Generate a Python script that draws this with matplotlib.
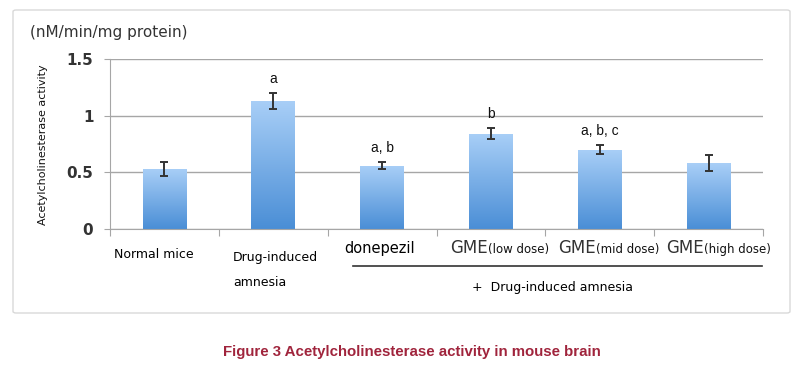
import matplotlib.pyplot as plt
from matplotlib.patches import FancyBboxPatch
from matplotlib.colors import LinearSegmentedColormap
import numpy as np

# values
groups = ['Normal mice', 'Drug-induced\namnesia', 'donepezil', 'GME(low dose)', 'GME(mid dose)', 'GME(high dose)']
activity = [0.53, 1.13, 0.56, 0.84, 0.70, 0.58]
err = [0.06, 0.07, 0.03, 0.05, 0.04, 0.07]
marks = ['', 'a', 'a, b', 'b', 'a, b, c', '']
yticks = [0, 0.5, 1, 1.5]
ytick_labels = ['0', '0.5', '1', '1.5']

fig = plt.figure(figsize=(8, 3.88), dpi=100)
fig.patch.set_facecolor('white')

# panel frame
frame = FancyBboxPatch((13 / 800, 1 - 313 / 388), 777 / 800, 303 / 388,
                       boxstyle='round,pad=0,rounding_size=0.004',
                       transform=fig.transFigure, facecolor='none',
                       edgecolor='#d9d9d9', linewidth=1.0, zorder=-5)
fig.add_artist(frame)

ax = fig.add_axes([110 / 800, 1 - 229 / 388, 653 / 800, 170 / 388])
ax.set_facecolor('none')
x = np.arange(len(groups))

bars = ax.bar(x, activity, width=0.4, color='none', edgecolor='none', zorder=2)

# vertical gradient fill for each bar
grad = np.linspace(0, 1, 256).reshape(-1, 1)
cmap = LinearSegmentedColormap.from_list('barblue', ['#4a8ed6', '#a9cff7'])
for b in bars:
    x0, y0 = b.get_x(), b.get_y()
    w, h = b.get_width(), b.get_height()
    im = ax.imshow(grad, extent=[x0, x0 + w, y0, y0 + h], origin='lower',
                   aspect='auto', cmap=cmap, zorder=2)
    im.set_clip_path(b)
ax.set_xlim(-0.5, len(groups) - 0.5)
ax.set_ylim(0, 1.5)

ax.errorbar(x, activity, yerr=err, fmt='none', ecolor='#333333',
            elinewidth=1.4, capsize=3, capthick=1.4, zorder=3)

for xi, v, e, m in zip(x, activity, err, marks):
    if m:
        ax.text(xi, v + e + 0.06, m, ha='center', va='bottom', fontsize=10,
                fontfamily='Liberation Sans', color='#111111')

ax.set_yticks(yticks)
ax.set_yticklabels(ytick_labels, fontsize=11, fontweight='bold', color='#333333')
ax.yaxis.grid(True, color='#a6a6a6', linewidth=1.0, zorder=0)
ax.set_axisbelow(True)
ax.tick_params(axis='y', length=4, color='#a6a6a6', pad=8)
ax.set_xticks(np.arange(-0.5, len(groups), 1.0))
ax.set_xticklabels([])
ax.tick_params(axis='x', length=5, color='#a6a6a6', direction='out')
for s in ['top', 'right']:
    ax.spines[s].set_visible(False)
ax.spines['left'].set_color('#a6a6a6')
ax.spines['bottom'].set_color('#a6a6a6')

# units and axis title
fig.text(30 / 800, 1 - 33 / 388, '(nM/min/mg protein)', fontsize=11,
         color='#333333', va='center', ha='left')
fig.text(43 / 800, 1 - 145 / 388, 'Acetylcholinesterase activity', fontsize=8,
         rotation=90, va='center', ha='center', color='#111111')

# category labels under the axis
fig.text(154 / 800, 1 - 255 / 388, 'Normal mice', fontsize=9, ha='center', va='center')
fig.text(233 / 800, 1 - 258 / 388, 'Drug-induced', fontsize=9, ha='left', va='center')
fig.text(233 / 800, 1 - 283 / 388, 'amnesia', fontsize=9, ha='left', va='center')
fig.text(380 / 800, 1 - 249 / 388, 'donepezil', fontsize=10.5, ha='center', va='center')

def gme(xpos, small):
    t = fig.text(xpos / 800, 1 - 248 / 388, 'GME', fontsize=12, ha='left',
                 va='center', color='#333333')
    fig.canvas.draw()
    bb = t.get_window_extent()
    fig.text(bb.x1 / fig.bbox.width, 1 - 249 / 388, small, fontsize=8.5,
             ha='left', va='center', color='#111111')

gme(450, '(low dose)')
gme(558, '(mid dose)')
gme(666, '(high dose)')

fig.add_artist(plt.Line2D([353 / 800, 762 / 800], [1 - 266 / 388, 1 - 266 / 388],
                          transform=fig.transFigure, color='#333333', linewidth=1.2))
fig.text(552 / 800, 1 - 288 / 388, '+  Drug-induced amnesia', fontsize=9,
         ha='center', va='center')

fig.text(412 / 800, 1 - 352 / 388, 'Figure 3 Acetylcholinesterase activity in mouse brain',
         fontsize=10.8, fontweight='bold', color='#a0243c', ha='center', va='center',
         fontfamily='Liberation Sans')

fig.savefig('out.png', dpi=100)
